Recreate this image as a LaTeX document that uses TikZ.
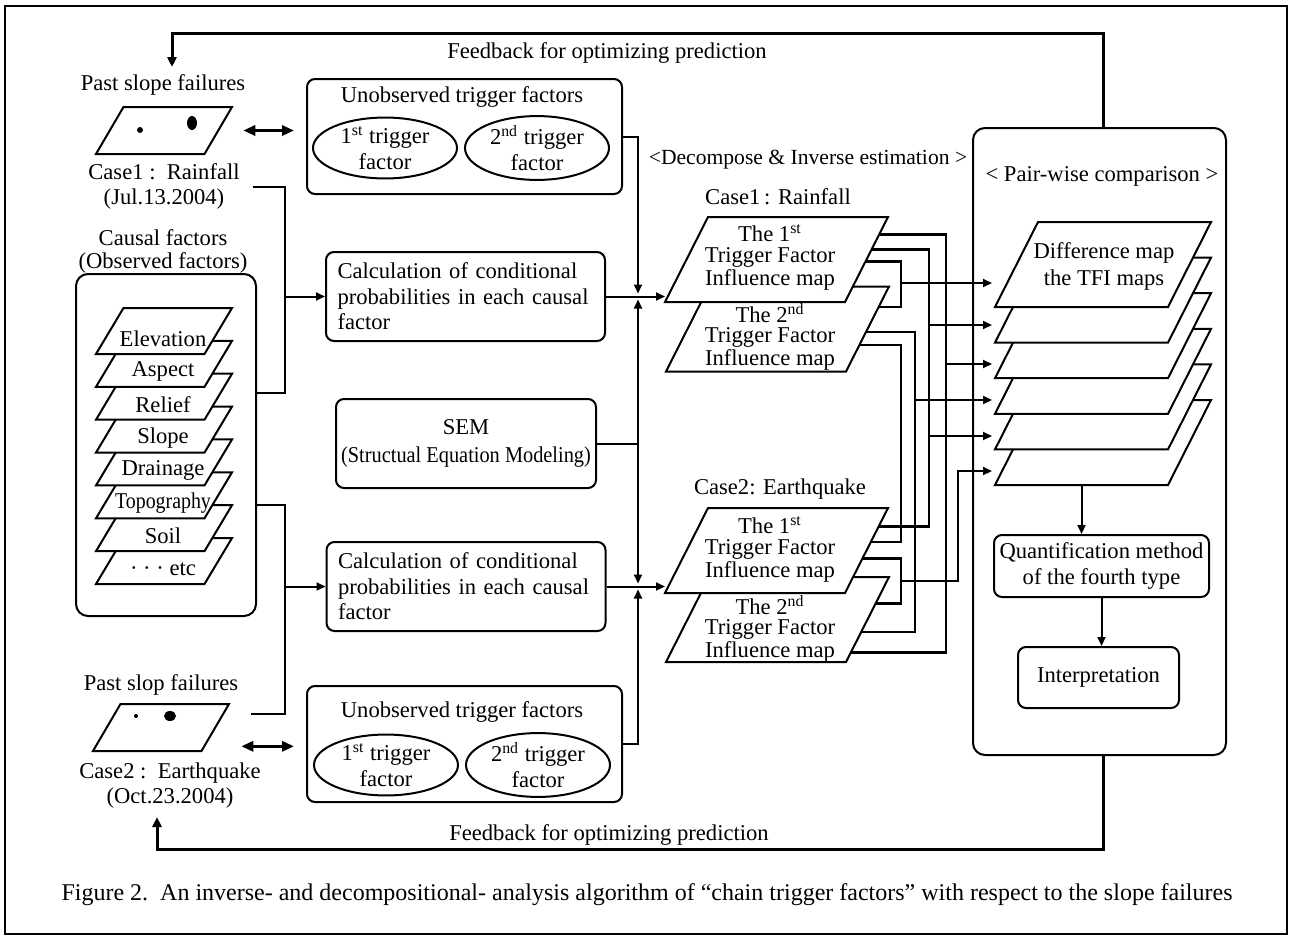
\documentclass[tikz,border=0pt]{standalone}
\usepackage{fontspec}
\usepackage{graphicx}
\setmainfont{Liberation Serif}
\usetikzlibrary{shapes.geometric,arrows.meta,calc,positioning}

\tikzset{
  every node/.style={font=\fontsize{11.3}{12.5}\selectfont},
  box/.style={draw, line width=1pt, rounded corners=4pt, fill=white, inner sep=0pt},
  ovalbox/.style={draw, ellipse, line width=1pt, minimum width=72pt, minimum height=30pt,
    inner sep=0pt, align=center, font=\fontsize{11.3}{13}\selectfont},
  maptext/.style={align=center, font=\fontsize{11.3}{10.3}\selectfont},
  line/.style={line width=1pt},
  bus/.style={line width=1.4pt},
  arr/.style={line width=1pt, -{Triangle[length=4.5pt,width=4pt]}},
  feed/.style={line width=1.5pt, -{Triangle[length=5pt,width=4.5pt]}},
  dblarr/.style={line width=1.5pt, {Triangle[length=6pt,width=5pt]}-{Triangle[length=6pt,width=5pt]}},
  % map sheet: side length, height, slant offset
  pics/sheet/.style n args={3}{code={
    \path[draw, fill=white, line width=1pt, line join=miter]
      ({-#1/2-#3/2},{#2/2}) coordinate (-bl) -- ({#1/2-#3/2},{#2/2}) coordinate (-br)
      -- ({#1/2+#3/2},{-#2/2}) coordinate (-tr) -- ({-#1/2+#3/2},{-#2/2}) coordinate (-tl) -- cycle;
  }},
}

\begin{document}
\begin{tikzpicture}[x=0.5pt,y=-0.5pt]
  \useasboundingbox (0,0) rectangle (1290,937);
  \draw[line width=0.8pt] (5,6) rectangle (1287,934);

  % containers
  \node[box, rounded corners=6pt, minimum width=90pt, minimum height=171pt] (causal) at (166,445) {};
  \node[box, rounded corners=6pt, minimum width=126.5pt, minimum height=313.5pt] (pair) at (1099.5,441.5) {};

  % causal factor layers
  \foreach \lbl/\k in {{· · · etc}/7, Soil/6, {\scalebox{0.88}[1]{Topography}}/5, Drainage/4, Slope/3, Relief/2, Aspect/1, Elevation/0}{
    \pic (lay\k) at (164,{331+32.86*\k}) {sheet={108.5}{46}{27.5}};
    \node (layt\k) at (163,{339+32.86*\k}) {\lbl};
  }

  % past slope failure maps
  \node (pastA) at (163,85) {Past slope failures};
  \pic (pmapA) at (164,130.5) {sheet={108.5}{47}{27.5}};
  \fill (140,130) circle (1.5pt);
  \fill (192,123) ellipse [x radius=2.5pt, y radius=3.5pt];
  \node[align=center] (caseA) at (164,186.5) {Case1 :\ \ Rainfall\\(Jul.13.2004)};
  \node[align=center, font=\fontsize{11.3}{11.5}\selectfont] (causalT) at (163,251.5) {Causal factors\\(Observed factors)};

  \node (pastB) at (161,685) {Past slop failures};
  \pic (pmapB) at (161,727.5) {sheet={108.5}{47}{27.5}};
  \fill (136,716) circle (1pt);
  \fill (170,716) ellipse [x radius=3pt, y radius=2.5pt];
  \node[align=center] (caseB) at (170,786) {Case2 :\ \ Earthquake\\(Oct.23.2004)};

  % unobserved trigger factors
  \node[box, minimum width=157.5pt, minimum height=57.5pt] (unobA) at (464.5,136.5) {};
  \node (titleA) at (462,97) {Unobserved trigger factors};
  \node[ovalbox] (ellA1) at (385,148) {1\textsuperscript{st} trigger\\factor};
  \node[ovalbox] (ellA2) at (537,148) {2\textsuperscript{nd} trigger\\factor};

  \node[box, minimum width=157.5pt, minimum height=58pt] (unobB) at (464.5,744) {};
  \node (titleB) at (462,712) {Unobserved trigger factors};
  \node[ovalbox] (ellB1) at (386,765) {1\textsuperscript{st} trigger\\factor};
  \node[ovalbox] (ellB2) at (538,765) {2\textsuperscript{nd} trigger\\factor};

  % calculation and SEM
  \node[box, text width=128pt, align=left, minimum height=44.5pt, inner xsep=5.75pt,
    font=\fontsize{11.3}{12.75}\selectfont] (calc1) at (465.5,296.5)
    {Calculation of conditional\\probabilities in each causal\\factor};
  \node[box, text width=128pt, align=left, minimum height=44.5pt, inner xsep=5.75pt,
    font=\fontsize{11.3}{12.75}\selectfont] (calc2) at (466,586.5)
    {Calculation of conditional\\probabilities in each causal\\factor};
  \node[box, align=center, minimum width=130pt, minimum height=44.5pt,
    font=\fontsize{11.3}{14}\selectfont] (sem) at (466,443.5)
    {SEM\\\scalebox{0.9}[1]{(Structual Equation Modeling)}};

  % trigger factor influence maps
  \node[font=\fontsize{10.8}{12}\selectfont] (decomp) at (808,160) {<Decompose \& Inverse estimation >};
  \node (c1lbl) at (778,197) {Case1\,: Rainfall};
  \pic (c1b) at (777.5,329) {sheet={180}{85}{43}};
  \pic (c1a) at (776.5,259.5) {sheet={180}{85}{43}};
  \node[maptext] (c1at) at (770,257.5) {The 1\textsuperscript{st}\\Trigger Factor\\Influence map};
  \node[maptext] (c1bt) at (770,337) {The 2\textsuperscript{nd}\\Trigger Factor\\Influence map};

  \node (c2lbl) at (780,489) {Case2: Earthquake};
  \pic (c2b) at (777.5,619.5) {sheet={180}{85}{43}};
  \pic (c2a) at (776.5,550.5) {sheet={180}{85}{43}};
  \node[maptext] (c2at) at (770,549.5) {The 1\textsuperscript{st}\\Trigger Factor\\Influence map};
  \node[maptext] (c2bt) at (770,629) {The 2\textsuperscript{nd}\\Trigger Factor\\Influence map};

  % pair-wise comparison
  \node (pairT) at (1102,176) {< Pair-wise comparison >};
  \foreach \k in {5,4,...,0}
    \pic (dm\k) at (1103,{264.5+35.6*\k}) {sheet={173}{85}{43}};
  \node[maptext, font=\fontsize{11.3}{13.5}\selectfont] (dmt) at (1104,266.5) {Difference map\\the TFI maps};
  \node[box, align=center, minimum width=107.5pt, minimum height=31pt,
    font=\fontsize{11.3}{13}\selectfont] (quant) at (1101.5,566) {Quantification method\\of the fourth type};
  \node[box, minimum width=80.5pt, minimum height=30.5pt] (interp) at (1098.5,677.5) {Interpretation};

  % feedback loops
  \node (fbTop) at (607,53) {Feedback for optimizing prediction};
  \node (fbBot) at (609,835) {Feedback for optimizing prediction};
  \coordinate (topcorner) at (172,33);
  \coordinate (topfb) at (172,67);
  \coordinate (botcorner) at (157,849);
  \coordinate (botfb) at (157,817);
  \draw[feed] ([xshift=1.75pt]pair.north) |- (topcorner) -- (topfb);
  \draw[feed] ([xshift=1.75pt]pair.south) |- (botcorner) -- (botfb);

  \coordinate (pA) at ($(pmapA-br)!0.5!(pmapA-tr)$);
  \coordinate (pB) at ($(pmapB-br)!0.1!(pmapB-tr)$);
  \draw[dblarr] ($(pA)+(25,0)$) -- ($(unobA.west |- pA)+(-12,0)$);
  \draw[dblarr] ($(pB)+(37,0)$) -- ($(unobB.west |- pB)+(-12,0)$);

  % causal factors to calculation
  \coordinate (busL) at (285,0);
  \coordinate (czA) at ($(causal.north east)!0.35!(causal.south east)$);
  \coordinate (czB) at ($(causal.north east)!0.675!(causal.south east)$);
  \draw[line] ([xshift=3pt]caseA.east) -| (busL |- czA) -- (czA);
  \draw[line] ($(pmapB-tr)+(22,10)$) -| (busL |- czB) -- (czB);
  \draw[arr] (busL |- calc1.west) -- (calc1.west);
  \draw[arr] (busL |- calc2.west) -- (calc2.west);

  % inverse estimation junctions
  \coordinate (jM) at (638,0);
  \draw[arr] (unobA.east) -| ($(jM |- calc1.east)+(0,-3)$);
  \draw[arr] (sem.east) -| ($(jM |- calc1.east)+(0,3)$);
  \draw[arr] (sem.east) -| ($(jM |- calc2.east)+(0,-3)$);
  \draw[arr] (unobB.east) -| ($(jM |- calc2.east)+(0,3)$);
  \draw[arr] (calc1.east) -- (calc1.east -| c1a-bl);
  \draw[arr] (calc2.east) -- (calc2.east -| c2a-bl);

  % map pairs
  \coordinate (xA) at (946,0);
  \coordinate (xB) at (929,0);
  \coordinate (xC) at (915,0);
  \coordinate (xD) at (901,0);
  \coordinate (xE) at (958,0);
  \coordinate (a1) at ($(c1a-br)!0.79!(c1a-tr)$);
  \coordinate (a2) at ($(c1a-br)!0.62!(c1a-tr)$);
  \coordinate (a3) at ($(c1a-br)!0.48!(c1a-tr)$);
  \coordinate (b1) at ($(c1b-br)!0.76!(c1b-tr)$);
  \coordinate (b2) at ($(c1b-br)!0.46!(c1b-tr)$);
  \coordinate (b3) at ($(c1b-br)!0.31!(c1b-tr)$);
  \coordinate (c1) at ($(c2a-br)!0.78!(c2a-tr)$);
  \coordinate (c2) at ($(c2a-br)!0.60!(c2a-tr)$);
  \coordinate (c3) at ($(c2a-br)!0.41!(c2a-tr)$);
  \coordinate (d1) at ($(c2b-br)!0.69!(c2b-tr)$);
  \coordinate (d2) at ($(c2b-br)!0.35!(c2b-tr)$);
  \coordinate (d3) at ($(c2b-br)!0.11!(c2b-tr)$);
  \draw[bus] (a1) -| (xA |- d3) -- (d3);
  \draw[bus] (a2) -| (xB |- c1) -- (c1);
  \draw[bus] (a3) -| (xD |- b1) -- (b1);
  \draw[line] (b2) -| (xC |- d2) -- (d2);
  \draw[line] (b3) -| (xD |- c2) -- (c2);
  \draw[bus] (c3) -| (xD |- d1) -- (d1);

  \foreach \y [count=\i] in {283,325,364,400,436,471}
    \coordinate (in\i) at (992,\y);
  \draw[arr] (xD |- in1) -- (in1);
  \draw[arr] (xB |- in2) -- (in2);
  \draw[arr] (xA |- in3) -- (in3);
  \draw[arr] (xC |- in4) -- (in4);
  \draw[arr] (xB |- in5) -- (in5);
  \draw[arr] ($(xD |- d1)!0.5!(xD |- c3)$) -| (xE |- in6) -- (in6);

  \coordinate (dmout) at ($(dm5-bl)!0.5!(dm5-br)$);
  \draw[arr] (dmout) -- (dmout |- quant.north);
  \draw[arr] (quant.south) -- (quant.south |- interp.north);

  % caption
  \node[font=\fontsize{12}{14}\selectfont] (caption) at (647,895)
    {Figure 2.\ \ An inverse- and decompositional- analysis algorithm of ``chain trigger factors'' with respect to the slope failures};
\end{tikzpicture}
\end{document}
